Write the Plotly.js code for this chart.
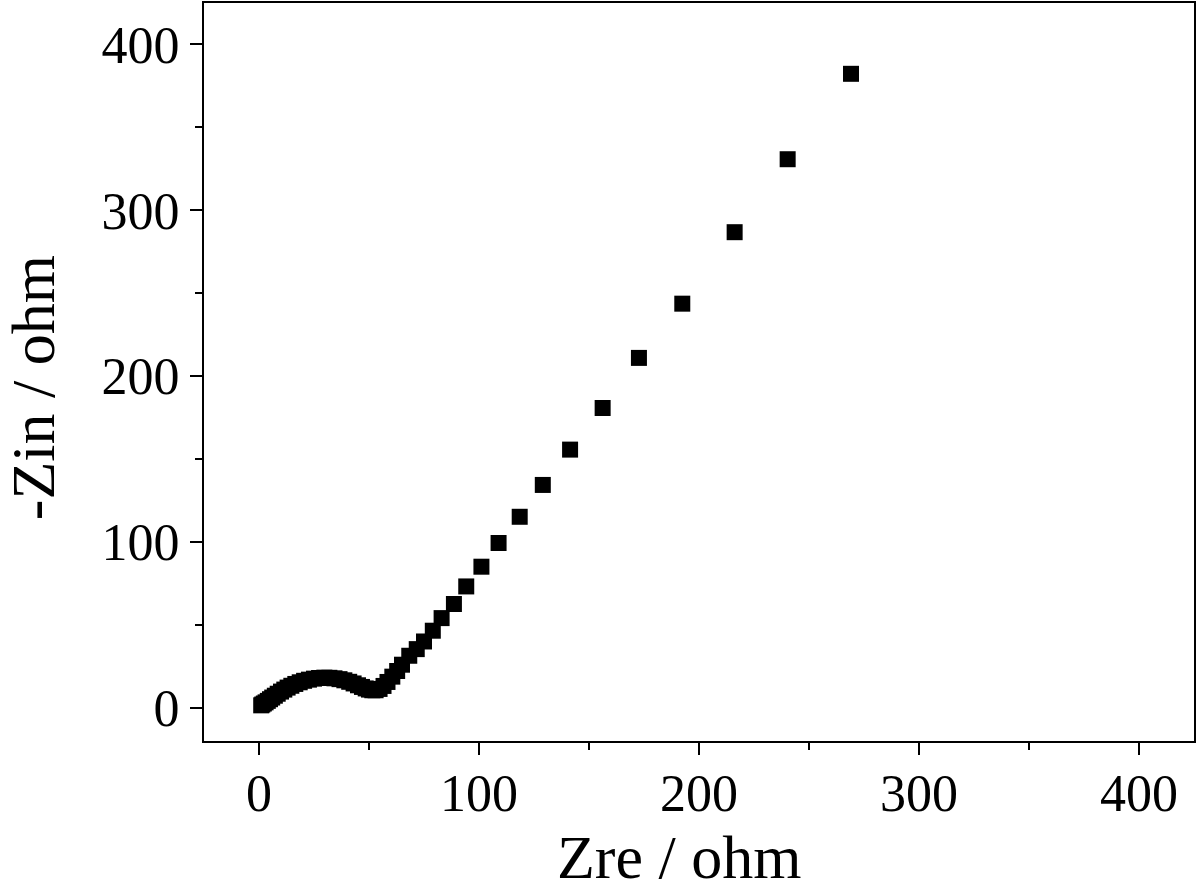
<!DOCTYPE html>
<html>
<head>
<meta charset="utf-8">
<script src="https://cdn.plot.ly/plotly-3.0.1.min.js"></script>
<style>html,body{margin:0;padding:0;background:#fff;}#chart{width:1200px;height:891px;}</style>
</head>
<body>
<div id="chart"></div>
<script>
// Nyquist data: real part (Zre) and negative imaginary part (-Zin), ohm
const zre = [1.0, 1.5, 2.2, 3.0, 4.0, 5.0, 6.0, 7.2, 8.5, 10.0, 11.5, 13.0, 14.7, 16.5, 18.5, 20.5, 22.7, 25.0, 27.3, 29.7, 32.0, 34.3, 36.6, 38.8, 41.0, 43.0, 45.0, 46.8, 48.5, 50.0, 51.5, 53.0, 54.8, 56.6, 58.4, 60.6, 62.8, 65.0, 68.3, 71.7, 75.0, 79.0, 83.0, 88.6, 94.2, 101.1, 108.9, 118.5, 129.0, 141.4, 156.2, 172.7, 192.4, 216.2, 240.3, 269.1];
const zin = [1.5, 2.0, 2.6, 3.3, 4.2, 5.2, 6.2, 7.3, 8.5, 9.8, 11.0, 12.2, 13.3, 14.4, 15.4, 16.3, 17.0, 17.6, 18.0, 18.2, 18.1, 17.8, 17.3, 16.6, 15.7, 14.7, 13.6, 12.6, 11.7, 11.0, 10.6, 10.6, 11.4, 13.2, 15.6, 18.8, 22.2, 26.0, 31.4, 35.4, 40.0, 46.5, 54.1, 62.6, 73.2, 85.1, 99.4, 115.2, 134.4, 155.7, 180.8, 211.0, 243.7, 286.8, 330.8, 382.3];

const tickVals = [0, 100, 200, 300, 400];
const tickText = ['0', '100', '200', '300', '400'];
const xTitle = 'Zre / ohm';
const yTitle = '-Zin / ohm';

const serif = 'Liberation Serif, Times New Roman, serif';

const trace = {
  x: zre, y: zin, type: 'scatter', mode: 'markers',
  marker: {symbol: 'square', size: 16, color: '#000', line: {width: 0}},
  hoverinfo: 'none'
};

const axisCommon = {
  showgrid: false, zeroline: false,
  showline: true, linecolor: '#000', linewidth: 2, mirror: true,
  ticks: 'outside', ticklen: 12, tickwidth: 2, tickcolor: '#000',
  tickmode: 'array', tickvals: tickVals, ticktext: tickText,
  tickfont: {family: serif, size: 52, color: '#000'},
  minor: {dtick: 50, tick0: 0, ticks: 'outside', ticklen: 7, tickwidth: 2, tickcolor: '#000', showgrid: false}
};

const layout = {
  width: 1200, height: 891,
  margin: {l: 204, r: 6, t: 3, b: 150},
  paper_bgcolor: '#fff', plot_bgcolor: '#fff',
  showlegend: false,
  xaxis: Object.assign({}, axisCommon, {range: [-25, 425], ticklabelstandoff: -6}),
  yaxis: Object.assign({}, axisCommon, {range: [-20, 425]}),
  annotations: [
    {text: xTitle, xref: 'paper', yref: 'paper', x: 0.48, y: -0.157,
     xanchor: 'center', yanchor: 'middle', showarrow: false,
     font: {family: serif, size: 62, color: '#000'}},
    {text: yTitle, xref: 'paper', yref: 'paper', x: -0.172, y: 0.479,
     xanchor: 'center', yanchor: 'middle', showarrow: false, textangle: -90,
     font: {family: serif, size: 62, color: '#000'}}
  ]
};

Plotly.newPlot('chart', [trace], layout, {staticPlot: true, displayModeBar: false});
</script>
</body>
</html>
